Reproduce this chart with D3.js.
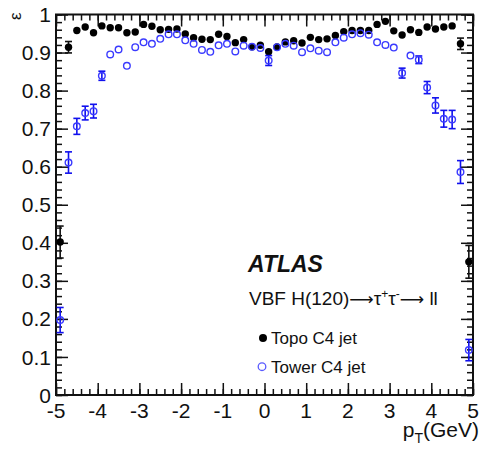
<!DOCTYPE html>
<html>
<head>
<meta charset="utf-8">
<script src="https://cdn.jsdelivr.net/npm/d3@7"></script>
<style>
  html, body { margin: 0; padding: 0; background: #fff; }
  svg { display: block; }
  text { font-family: "Liberation Sans", Arial, sans-serif; fill: #111; }
</style>
</head>
<body>
<div id="chart"></div>
<script>
// Bin centres (0.2 wide bins from -5 to 5)
const binCenters = [-4.9, -4.7, -4.5, -4.3, -4.1, -3.9, -3.7, -3.5, -3.3, -3.1,
                    -2.9, -2.7, -2.5, -2.3, -2.1, -1.9, -1.7, -1.5, -1.3, -1.1,
                    -0.9, -0.7, -0.5, -0.3, -0.1, 0.1, 0.3, 0.5, 0.7, 0.9,
                    1.1, 1.3, 1.5, 1.7, 1.9, 2.1, 2.3, 2.5, 2.7, 2.9,
                    3.1, 3.3, 3.5, 3.7, 3.9, 4.1, 4.3, 4.5, 4.7, 4.9];

// Topo C4 jet efficiency
const topoEff = [0.402, 0.914, 0.958, 0.967, 0.952, 0.970, 0.965, 0.965, 0.952, 0.954,
                 0.974, 0.969, 0.960, 0.961, 0.962, 0.949, 0.939, 0.935, 0.934, 0.948,
                 0.942, 0.926, 0.934, 0.915, 0.919, 0.902, 0.915, 0.928, 0.931, 0.925,
                 0.940, 0.934, 0.936, 0.945, 0.955, 0.958, 0.958, 0.958, 0.974, 0.982,
                 0.957, 0.946, 0.960, 0.953, 0.967, 0.962, 0.967, 0.970, 0.923, 0.350];
const topoErr = [0.042, 0.015, 0, 0, 0, 0, 0, 0, 0, 0,
                 0, 0, 0, 0, 0, 0, 0, 0, 0, 0,
                 0, 0, 0, 0, 0, 0, 0, 0, 0, 0,
                 0, 0, 0, 0, 0, 0, 0, 0, 0, 0,
                 0, 0, 0, 0, 0, 0, 0, 0, 0.015, 0.043];

// Tower C4 jet efficiency
const towerEff = [0.197, 0.611, 0.706, 0.741, 0.746, 0.839, 0.895, 0.908, 0.865, 0.914,
                  0.927, 0.923, 0.936, 0.948, 0.948, 0.932, 0.923, 0.907, 0.902, 0.919,
                  0.923, 0.903, 0.918, 0.915, 0.912, 0.879, 0.914, 0.923, 0.918, 0.901,
                  0.911, 0.905, 0.901, 0.927, 0.939, 0.948, 0.951, 0.947, 0.927, 0.920,
                  0.913, 0.846, 0.892, 0.881, 0.808, 0.761, 0.726, 0.724, 0.586, 0.118];
const towerErr = [0.033, 0.028, 0.021, 0.018, 0.018, 0.012, 0, 0, 0, 0,
                  0, 0, 0, 0, 0, 0, 0, 0, 0, 0,
                  0, 0, 0, 0, 0, 0.013, 0, 0, 0, 0,
                  0, 0, 0, 0, 0, 0, 0, 0, 0, 0,
                  0, 0.013, 0, 0.010, 0.016, 0.020, 0.022, 0.024, 0.030, 0.028];

// Axis ticks and labels
const xMajorTicks = [-5, -4, -3, -2, -1, 0, 1, 2, 3, 4, 5];
const xTickLabels = ["-5", "-4", "-3", "-2", "-1", "0", "1", "2", "3", "4", "5"];
const yMajorTicks = [0, 0.1, 0.2, 0.3, 0.4, 0.5, 0.6, 0.7, 0.8, 0.9, 1];
const yTickLabels = ["0", "0.1", "0.2", "0.3", "0.4", "0.5", "0.6", "0.7", "0.8", "0.9", "1"];
const xMinorTicks = d3.range(-50, 51, 2).map(v => v / 10);
const yMinorTicks = d3.range(0, 51).map(v => v / 50);

const W = 480, H = 449;
const plotL = 56, plotR = 473, plotT = 14.5, plotB = 395;

const svg = d3.select("#chart").append("svg")
  .attr("width", W).attr("height", H);

const x = d3.scaleLinear().domain([-5, 5]).range([plotL, plotR]);
const y = d3.scaleLinear().domain([0, 1]).range([plotB, plotT]);

// Inward-pointing ticks on all four sides
function tickLayer(axisFn, scale, values, size, transform) {
  const g = svg.append("g").attr("transform", transform)
    .call(axisFn(scale).tickValues(values).tickSizeInner(-size).tickSizeOuter(0).tickFormat(""));
  g.select(".domain").remove();
  g.selectAll(".tick line").attr("stroke", "#111").attr("stroke-width", 1.5);
  return g;
}
tickLayer(d3.axisBottom, x, xMinorTicks, 6, `translate(0,${plotB})`);
tickLayer(d3.axisBottom, x, xMajorTicks, 12, `translate(0,${plotB})`);
tickLayer(d3.axisTop, x, xMinorTicks, 6, `translate(0,${plotT})`);
tickLayer(d3.axisTop, x, xMajorTicks, 12, `translate(0,${plotT})`);
tickLayer(d3.axisLeft, y, yMinorTicks, 6, `translate(${plotL},0)`);
tickLayer(d3.axisLeft, y, yMajorTicks, 12, `translate(${plotL},0)`);
tickLayer(d3.axisRight, y, yMinorTicks, 6, `translate(${plotR},0)`);
tickLayer(d3.axisRight, y, yMajorTicks, 12, `translate(${plotR},0)`);

// Frame
svg.append("rect")
  .attr("x", plotL).attr("y", plotT)
  .attr("width", plotR - plotL).attr("height", plotB - plotT)
  .attr("fill", "none").attr("stroke", "#111").attr("stroke-width", 2);

// Tick labels
svg.append("g").selectAll("text").data(xMajorTicks).join("text")
  .attr("x", d => x(d)).attr("y", 418)
  .attr("text-anchor", "middle").attr("font-size", 21)
  .text((d, i) => xTickLabels[i]);
svg.append("g").selectAll("text").data(yMajorTicks).join("text")
  .attr("x", 51).attr("y", d => y(d)).attr("dy", "0.36em")
  .attr("text-anchor", "end").attr("font-size", 21)
  .text((d, i) => yTickLabels[i]);

// Axis titles
const xt = svg.append("text").attr("x", 479).attr("y", 437)
  .attr("text-anchor", "end").attr("font-size", 21);
xt.append("tspan").text("p");
xt.append("tspan").attr("font-size", 14).attr("dy", 6).text("T");
xt.append("tspan").attr("dy", -6).text("(GeV)");

svg.append("text")
  .attr("transform", "translate(21,12.5) rotate(-90)")
  .attr("text-anchor", "end").attr("font-size", 17)
  .text("ε");

// Data: error bars then markers
const topo = binCenters.map((c, i) => ({ x: c, v: topoEff[i], e: topoErr[i] }));
const tower = binCenters.map((c, i) => ({ x: c, v: towerEff[i], e: towerErr[i] }));

function errorBars(data, color) {
  const g = svg.append("g").attr("stroke", color).attr("stroke-width", 1.6);
  const withErr = data.filter(d => d.e > 0);
  g.selectAll("line.v").data(withErr).join("line").attr("class", "v")
    .attr("x1", d => x(d.x)).attr("x2", d => x(d.x))
    .attr("y1", d => y(d.v - d.e)).attr("y2", d => y(d.v + d.e));
  g.selectAll("line.lo").data(withErr).join("line").attr("class", "lo")
    .attr("x1", d => x(d.x) - 3.5).attr("x2", d => x(d.x) + 3.5)
    .attr("y1", d => y(d.v - d.e)).attr("y2", d => y(d.v - d.e));
  g.selectAll("line.hi").data(withErr).join("line").attr("class", "hi")
    .attr("x1", d => x(d.x) - 3.5).attr("x2", d => x(d.x) + 3.5)
    .attr("y1", d => y(d.v + d.e)).attr("y2", d => y(d.v + d.e));
}

errorBars(topo, "#111");
svg.append("g").selectAll("circle").data(topo).join("circle")
  .attr("cx", d => x(d.x)).attr("cy", d => y(d.v)).attr("r", 3.7)
  .attr("fill", "#000");

errorBars(tower, "#1010ee");
svg.append("g").selectAll("circle").data(tower).join("circle")
  .attr("cx", d => x(d.x)).attr("cy", d => y(d.v)).attr("r", 3.3)
  .attr("fill", "none").attr("stroke", "#3a3aff").attr("stroke-width", 1.4);

// Labels and legend
svg.append("text").attr("x", 248).attr("y", 272)
  .attr("font-size", 23).attr("font-weight", "bold").attr("font-style", "italic")
  .text("ATLAS");

const proc = svg.append("text").attr("x", 249).attr("y", 305).attr("font-size", 19);
proc.append("tspan").text("VBF H(120)");
proc.append("tspan").attr("font-family", "DejaVu Sans").attr("font-size", 17).text("⟶");
proc.append("tspan").text("τ");
proc.append("tspan").attr("font-size", 12).attr("dy", -7).text("+");
proc.append("tspan").attr("dy", 7).text("τ");
proc.append("tspan").attr("font-size", 12).attr("dy", -7).text("-");
proc.append("tspan").attr("dy", 7).attr("font-family", "DejaVu Sans").attr("font-size", 17).text("⟶");
proc.append("tspan").text(" ll");

const legendItems = ["Topo C4 jet", "Tower C4 jet"];
const legendY = [338, 366.7];
svg.append("circle").attr("cx", 263).attr("cy", legendY[0]).attr("r", 4).attr("fill", "#000");
svg.append("circle").attr("cx", 262).attr("cy", legendY[1]).attr("r", 3.8)
  .attr("fill", "none").attr("stroke", "#5a5aff").attr("stroke-width", 1.3);
svg.append("g").selectAll("text").data(legendItems).join("text")
  .attr("x", 271).attr("y", (d, i) => legendY[i] + 6)
  .attr("font-size", 17)
  .text(d => d);
</script>
</body>
</html>
